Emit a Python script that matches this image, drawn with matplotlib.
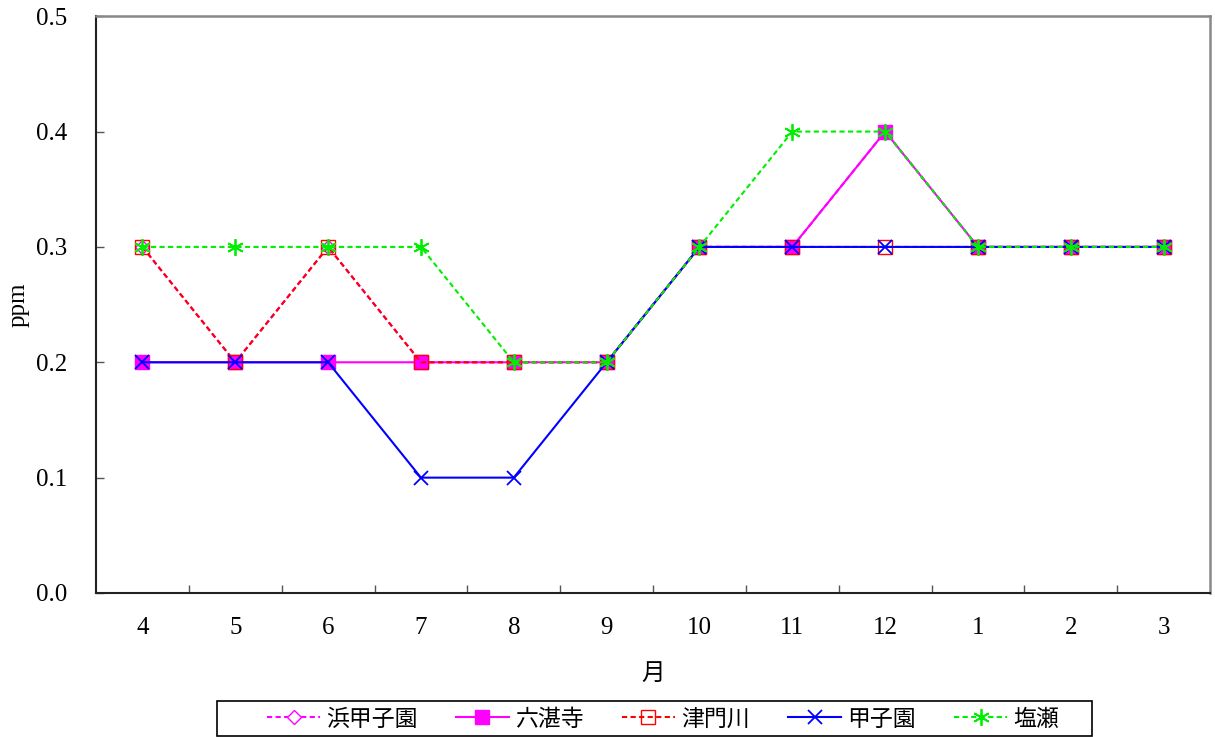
import matplotlib
matplotlib.use("Agg")
import matplotlib.pyplot as plt
from matplotlib.patches import Rectangle

months = ["4", "5", "6", "7", "8", "9", "10", "11", "12", "1", "2", "3"]

hama_koshien = [0.3, 0.2, 0.3, 0.2, 0.2, 0.2, 0.3, 0.3, 0.4, 0.3, 0.3, 0.3]
rokutanji    = [0.2, 0.2, 0.2, 0.2, 0.2, 0.2, 0.3, 0.3, 0.4, 0.3, 0.3, 0.3]
tsutogawa    = [0.3, 0.2, 0.3, 0.2, 0.2, 0.2, 0.3, 0.3, 0.3, 0.3, 0.3, 0.3]
koshien      = [0.2, 0.2, 0.2, 0.1, 0.1, 0.2, 0.3, 0.3, 0.3, 0.3, 0.3, 0.3]
shioze       = [0.3, 0.3, 0.3, 0.3, 0.2, 0.2, 0.3, 0.4, 0.4, 0.3, 0.3, 0.3]

series_names = ["浜甲子園", "六湛寺", "津門川", "甲子園", "塩瀬"]

serif = ["Liberation Serif", "DejaVu Serif"]
cjk = ["Noto Sans CJK JP", "DejaVu Sans"]

W, H = 1215, 737
fig = plt.figure(figsize=(W / 100, H / 100), dpi=100)
ax = fig.add_axes([0.079, 0.1954, 0.917, 0.7826])

x = list(range(len(months)))
dash = (0, (2.5, 1.6))

styles = [
    dict(data=hama_koshien, color="#ff00ff", ls=dash, marker="D", ms=7,
         mfc="white", mec="#ff00ff", mew=1.0),
    dict(data=rokutanji, color="#ff00ff", ls="-", marker="s", ms=10.5,
         mfc="#ff00ff", mec="#ff00ff", mew=1.0),
    dict(data=tsutogawa, color="#ff0000", ls=dash, marker="s", ms=10.5,
         mfc="none", mec="#ff0000", mew=1.0),
    dict(data=koshien, color="#0000ff", ls="-", marker="x", ms=10.5,
         mfc="none", mec="#0000ff", mew=1.3),
    dict(data=shioze, color="#00ee00", ls=dash, marker=(6, 2, 0), ms=12,
         mfc="none", mec="#00ee00", mew=1.3),
]

handles = []
for name, st in zip(series_names, styles):
    line, = ax.plot(x, st["data"], color=st["color"], linestyle=st["ls"],
                    linewidth=1.5, marker=st["marker"], markersize=st["ms"],
                    markerfacecolor=st["mfc"], markeredgecolor=st["mec"],
                    markeredgewidth=st["mew"], label=name, clip_on=False)
    handles.append(line)

ax.set_xlim(-0.5, len(months) - 0.5)
ax.set_ylim(0.0, 0.5)

# category ticks: labels at centres, tick marks on boundaries
ax.set_xticks(x)
ax.set_xticklabels(months, fontfamily=serif, fontsize=18)
ax.tick_params(axis="x", which="major", length=0, pad=17)
ax.set_xticks([i + 0.5 for i in x[:-1]], minor=True)
ax.tick_params(axis="x", which="minor", direction="in", length=6, width=1, color="#555555")

yt = [0.0, 0.1, 0.2, 0.3, 0.4, 0.5]
ax.set_yticks(yt)
ax.set_yticklabels([f"{v:.1f}" for v in yt], fontfamily=serif, fontsize=18)
ax.tick_params(axis="y", direction="in", length=6, width=1, color="#555555", pad=21)

for s in ["left", "bottom"]:
    ax.spines[s].set_color("#222222")
    ax.spines[s].set_linewidth(1.5)
for s in ["top", "right"]:
    ax.spines[s].set_color("#888888")
    ax.spines[s].set_linewidth(1.8)

ax.set_xlabel("月", fontfamily=cjk, fontsize=17, labelpad=17)
ax.set_ylabel("ppm", fontfamily=serif, fontsize=18, labelpad=4)

# legend entries without their own frame; a wider box is drawn around them
leg = fig.legend(handles=handles, loc="center", ncol=5,
                 bbox_to_anchor=(0.5455, 1 - 719 / H), frameon=False,
                 prop={"family": cjk, "size": 16.5},
                 handlelength=2.35, handletextpad=0.25, columnspacing=1.65,
                 borderpad=0.0, borderaxespad=0.0)
fig.patches.append(Rectangle((217 / W, 1 / H), (1092 - 217) / W, (736 - 701) / H,
                             transform=fig.transFigure, fill=False,
                             edgecolor="black", linewidth=1.2))

fig.savefig("out.png", dpi=100)
